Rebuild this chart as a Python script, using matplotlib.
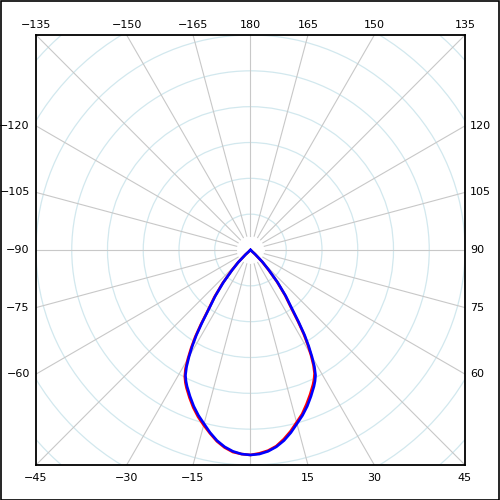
import numpy as np
import matplotlib
matplotlib.use('Agg')
import matplotlib.pyplot as plt
from matplotlib.patches import Circle, Rectangle

# luminous intensity vs. gamma angle (deg), arbitrary units, grid step 50
gamma = [-180, -50, -47.5, -45, -42.5, -40, -37.5, -35, -33.75, -32.5, -31.25, -30, -28.75,
         -27.5, -26.25, -25, -22.5, -20, -17.5, -15, -12.5, -10, -7.5, -5, -2.5,
         0, 2.5, 5, 7.5, 10, 12.5, 15, 17.5, 20, 22.5, 25, 26.25, 27.5, 28.75,
         30, 31.25, 32.5, 33.75, 35, 37.5, 40, 42.5, 45, 47.5, 50, 180]
blue_I = [0, 0, 9, 24, 38, 59, 81, 104, 122, 141, 157, 172, 186,
          197, 204, 210, 221, 232, 242, 251, 261, 270, 277, 282, 285,
          286, 285, 282, 277, 270, 261, 251, 242, 232, 221, 210, 204, 197, 186,
          172, 157, 141, 122, 104, 81, 59, 38, 24, 9, 0, 0]
red_I = [0, 0, 10, 25, 40, 61, 83, 106, 125, 144, 160, 175, 189,
         199, 206, 212, 223, 234, 244, 253, 262, 271, 278, 283, 285,
         286, 284, 281, 276, 268, 259, 249, 240, 229, 218, 207, 201, 194, 183,
         169, 154, 138, 119, 101, 79, 57, 36, 22, 8, 0, 0]

grid_r = [50, 100, 150, 200, 250, 300, 350, 400]
spoke_angles = np.arange(-180, 180, 15)
bottom_labels = [-45, -30, -15, 15, 30, 45]
top_labels = [-135, -150, -165, 180, 165, 150, 135]
left_labels = [-120, -105, -90, -75, -60]
right_labels = [120, 105, 90, 75, 60]

plt.rcParams['font.family'] = 'DejaVu Sans'
fig = plt.figure(figsize=(5, 5), dpi=100)
ax = fig.add_axes([36/500, 35/500, 429/500, 430/500])
ax.set_xlim(-300, 300)
ax.set_ylim(-300, 300)
ax.set_xticks([])
ax.set_yticks([])
for s in ax.spines.values():
    s.set_linewidth(1.3)

# concentric circles
for r in grid_r:
    ax.add_patch(Circle((0, 0), r, fill=False, ec='#d2e8ee', lw=0.9, zorder=1))

# radial spokes
for g in spoke_angles:
    t = np.radians(g)
    ax.plot([20*np.sin(t), 500*np.sin(t)], [-20*np.cos(t), -500*np.cos(t)],
            color='#c8c8c8', lw=0.8, zorder=2)

def polar_xy(ang, val):
    t = np.radians(np.asarray(ang, dtype=float))
    v = np.asarray(val, dtype=float)
    return v*np.sin(t), -v*np.cos(t)

x, y = polar_xy(gamma, red_I)
ax.plot(x, y, color='red', lw=1.9, zorder=3, solid_joinstyle='round')
x, y = polar_xy(gamma, blue_I)
ax.plot(x, y, color='blue', lw=1.9, zorder=4, solid_joinstyle='round')

# angle labels around the box
for g in bottom_labels:
    ax.annotate(str(g).replace('-', '\u2212'), (300*np.tan(np.radians(g)), -300),
                xytext=(0, -9.5), textcoords='offset points',
                ha='center', va='center', fontsize=8, annotation_clip=False)
for g in top_labels:
    ax.annotate(str(g).replace('-', '\u2212'), (-300*np.tan(np.radians(g)), 300),
                xytext=(0, 7.5), textcoords='offset points',
                ha='center', va='center', fontsize=8, annotation_clip=False)
for g in left_labels:
    t = np.radians(g)
    ax.annotate(str(g).replace('-', '\u2212'), (-300, -300*np.cos(t)/abs(np.sin(t))),
                xytext=(-4.5, 0), textcoords='offset points',
                ha='right', va='center', fontsize=8, annotation_clip=False)
for g in right_labels:
    t = np.radians(g)
    ax.annotate(str(g), (300, -300*np.cos(t)/abs(np.sin(t))),
                xytext=(3.5, 0), textcoords='offset points',
                ha='left', va='center', fontsize=8, annotation_clip=False)

fig.patches.append(Rectangle((0.001, 0.001), 0.997, 0.997, transform=fig.transFigure,
                             fill=False, ec='black', lw=1.2))

fig.savefig('out.png', dpi=100)
